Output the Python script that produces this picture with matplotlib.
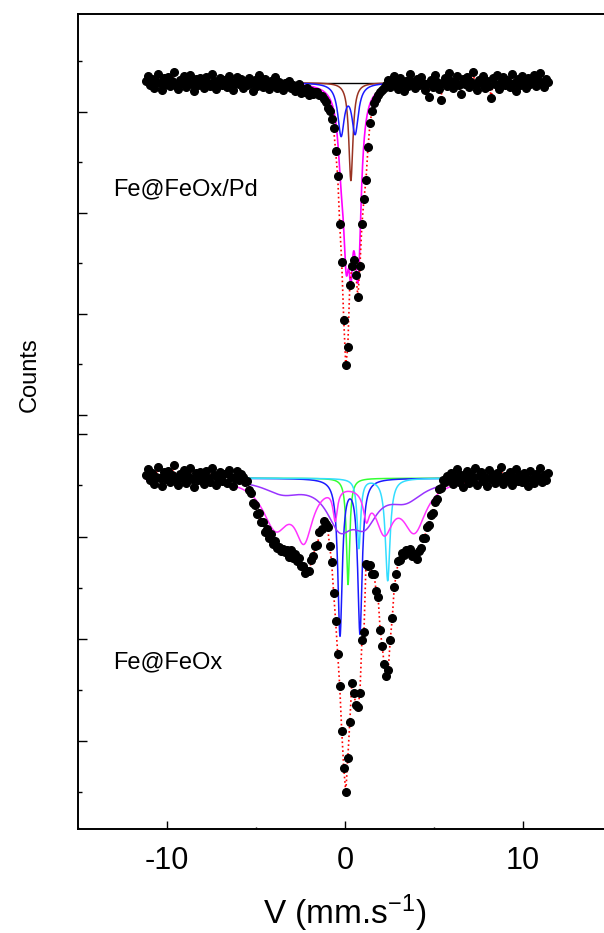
import numpy as np
import matplotlib
matplotlib.use("Agg")
import matplotlib.pyplot as plt
from matplotlib.ticker import MultipleLocator, NullLocator

plt.rcParams["font.family"] = ["Liberation Sans", "DejaVu Sans"]
plt.rcParams["mathtext.default"] = "regular"

# === Velocity channels (mm/s) ===
velocity = np.linspace(-11.2, 11.4, 200)

# === Counts: Fe@FeOx/Pd ===
counts_pd = [
    1031, 1036, 1027, 1033, 1024, 1030, 1038, 1029, 1022, 1034,
    1028, 1035, 1026, 1031, 1040, 1027, 1023, 1032, 1029, 1036,
    1025, 1030, 1037, 1028, 1021, 1033, 1027, 1034, 1030, 1024,
    1035, 1029, 1026, 1038, 1031, 1023, 1028, 1034, 1027, 1032,
    1025, 1036, 1030, 1022, 1029, 1035, 1028, 1033, 1024, 1031,
    1027, 1034, 1029, 1021, 1032, 1026, 1037, 1030, 1025, 1033,
    1028, 1023, 1031, 1027, 1035, 1024, 1030, 1026, 1022, 1029,
    1026, 1031, 1024, 1027, 1021, 1025, 1028, 1019, 1023, 1020,
    1024, 1017, 1021, 1018, 1020,
    1020, 1017, 1016, 1013, 1010, 1004, 1001, 993, 984, 961,
    937, 889, 851, 794, 749, 767, 829, 847, 853, 839,
    817, 847, 889, 914, 933, 965, 989, 1001, 1009, 1013,
    1017, 1020, 1022, 1024,
    1027, 1032, 1025, 1030, 1036, 1028, 1023, 1034, 1029, 1021,
    1031, 1026, 1038, 1030, 1024, 1033, 1027, 1035, 1029, 1022,
    1028, 1015, 1032, 1025, 1037, 1030, 1023, 1012, 1029, 1034,
    1026, 1039, 1031, 1024, 1030, 1036, 1027, 1018, 1033, 1028,
    1035, 1025, 1030, 1040, 1027, 1022, 1032, 1029, 1036, 1024,
    1031, 1026, 1014, 1034, 1028, 1037, 1023, 1030, 1035, 1027,
    1032, 1025, 1038, 1029, 1021, 1033, 1027, 1036, 1030, 1024,
    1034, 1028, 1031, 1037, 1026, 1032, 1039, 1029, 1025, 1033,
    1030,
]

# === Counts: Fe@FeOx ===
counts_ox = [
    960, 966, 955, 962, 951, 958, 968, 957, 949, 963,
    956, 964, 953, 960, 970, 955, 950, 961, 957, 965,
    952, 959, 967, 956, 948, 962, 955, 963, 958, 951,
    964, 957, 953, 967, 960, 950, 956, 963, 954, 961,
    952, 965, 958, 949, 957, 964, 955, 961,
    958, 953, 954, 945, 943, 933, 931, 922, 923, 914,
    914, 904, 907, 899, 902, 893, 896, 889, 890, 886,
    888, 885, 887, 880, 887, 879, 883, 876, 879, 871,
    871, 864, 866, 866, 877, 881, 891, 892, 904, 907,
    915, 912, 909, 891, 875, 845, 817, 785, 754, 710,
    674, 650, 683, 719, 757, 747, 735, 733, 747, 799,
    807, 873, 871, 872, 863, 863, 847, 841, 809, 793,
    775, 764, 769, 799, 820, 851, 863, 876, 877, 884,
    882, 887, 885, 888, 881, 883, 878, 886, 889, 899,
    899, 909, 911, 921, 923, 934, 937, 946, 947, 955,
    953, 959,
    955, 962, 951, 958, 966, 953, 960, 948, 957, 964,
    952, 961, 956, 967, 950, 959, 963, 954, 958, 949,
    965, 956, 960, 952, 962, 957, 968, 951, 959, 955,
    963, 950, 958, 966, 954, 960, 953, 962, 957, 949,
    964, 956, 952, 961, 958, 967, 953, 960, 955, 962,
]

# === Fit subspectra (Lorentzian lines: centre, depth, half-width) ===
base_pd = 1029
range_pd = (-3.4, 4.4)
brown_pos, brown_depth, brown_hw = [0.33], [97], [0.14]
blue_pd_pos, blue_pd_depth, blue_pd_hw = [-0.22, 0.57], [50, 48], [0.22, 0.22]
main_pd_pos, main_pd_depth, main_pd_hw = [0.07, 0.75], [131, 144], [0.2, 0.2]

base_ox = 957
range_ox = (-5.7, 5.6)
pink_pos = [-3.9, -2.3, -0.55, 1.2, 2.2, 3.9]
pink_depth = [45, 52, 30, 25, 45, 48]
pink_hw = [0.9, 0.6, 0.15, 0.2, 0.6, 0.8]
violet_pos = [-3.5, -0.3, 1.1, 3.4]
violet_depth = [12, 40, 35, 18]
violet_hw = [1.3, 0.9, 0.9, 1.2]
blue_ox_pos, blue_ox_depth, blue_ox_hw = [-0.28, 0.84], [152, 150], [0.15, 0.15]
green_pos, green_depth, green_hw = [0.17], [104], [0.11]
cyan_pos, cyan_depth, cyan_hw = [0.78, 2.4], [68, 100], [0.12, 0.16]


def lorentz(v, pos, depth, hw):
    out = np.zeros_like(v)
    for c, d, w in zip(pos, depth, hw):
        out += d / (1 + ((v - c) / w) ** 2)
    return out


fig = plt.figure(figsize=(6.04, 9.33), dpi=100)
ax_top = fig.add_axes([78 / 604, 1 - 424 / 933, 534 / 604, 410 / 933])
ax_bot = fig.add_axes([78 / 604, 1 - 829 / 933, 534 / 604, 405 / 933])

# --- Fe@FeOx/Pd ---
v = np.linspace(*range_pd, 2000)
d_brown = lorentz(v, brown_pos, brown_depth, brown_hw)
d_blue = lorentz(v, blue_pd_pos, blue_pd_depth, blue_pd_hw)
d_main = lorentz(v, main_pd_pos, main_pd_depth, main_pd_hw)
ax_top.plot(range_pd, [base_pd, base_pd], color="black", lw=1.0, zorder=2)
ax_top.plot(v, base_pd - d_brown, color="#993322", lw=1.1, zorder=3)
ax_top.plot(v, base_pd - d_blue, color="#1a1aff", lw=1.1, zorder=3)
ax_top.plot(v, base_pd - (d_brown + d_blue + d_main), color="#ff00ff", lw=1.2, zorder=4)
ax_top.plot(velocity, counts_pd, color="red", ls=":", lw=1.2, zorder=5)
ax_top.plot(velocity, counts_pd, "o", color="black", ms=5.5, zorder=6)
ax_top.text(-13.0, 923, "Fe@FeOx/Pd", fontsize=17, va="center", ha="left")

# --- Fe@FeOx ---
v = np.linspace(*range_ox, 3000)
v_full = np.linspace(velocity[0], velocity[-1], 4000)
d_pink = lorentz(v_full, pink_pos, pink_depth, pink_hw)
d_violet = lorentz(v, violet_pos, violet_depth, violet_hw)
d_blue = lorentz(v, blue_ox_pos, blue_ox_depth, blue_ox_hw)
d_green = lorentz(v, green_pos, green_depth, green_hw)
d_cyan = lorentz(v, cyan_pos, cyan_depth, cyan_hw)
ax_bot.plot(v, base_ox - d_green, color="#33ff33", lw=1.1, zorder=3)
ax_bot.plot(v, base_ox - d_blue, color="#1a1aff", lw=1.1, zorder=3)
ax_bot.plot(v, base_ox - d_cyan, color="#33ddff", lw=1.1, zorder=3)
ax_bot.plot(v, base_ox - d_violet, color="#9933ff", lw=1.1, zorder=3)
ax_bot.plot(v_full, base_ox - d_pink, color="#ff33ff", lw=1.1, zorder=4)
ax_bot.plot(velocity, counts_ox, color="red", ls=":", lw=1.2, zorder=5)
ax_bot.plot(velocity, counts_ox, "o", color="black", ms=5.5, zorder=6)
ax_bot.text(-13.0, 777, "Fe@FeOx", fontsize=17, va="center", ha="left")

# === Axes styling ===
for ax, ylim in ((ax_top, (691, 1097)), (ax_bot, (614, 1010))):
    ax.set_xlim(-15, 15)
    ax.set_ylim(*ylim)
    ax.yaxis.set_major_locator(MultipleLocator(100))
    ax.yaxis.set_minor_locator(MultipleLocator(50))
    ax.tick_params(axis="y", which="major", direction="in", length=6.5, width=1.0,
                   labelleft=False)
    ax.tick_params(axis="y", which="minor", direction="in", length=3, width=1.0)
    for s in ax.spines.values():
        s.set_linewidth(1.4)
    ax.spines["right"].set_visible(False)

ax_top.spines["bottom"].set_visible(False)
ax_top.xaxis.set_major_locator(NullLocator())
ax_top.xaxis.set_minor_locator(NullLocator())
ax_bot.spines["top"].set_visible(False)
ax_bot.xaxis.set_major_locator(MultipleLocator(10))
ax_bot.xaxis.set_minor_locator(MultipleLocator(5))
ax_bot.tick_params(axis="x", which="major", direction="in", length=6, width=1.0,
                   labelsize=22, pad=12)
ax_bot.tick_params(axis="x", which="minor", direction="in", length=1.5, width=1.0)
ax_bot.set_xticks([-10, 0, 10])
ax_bot.set_xticklabels(["-10", "0", "10"])
ax_bot.set_xlabel("V (mm.s$^{-1}$)", fontsize=24, labelpad=12)
fig.text(0.05, 1 - 375 / 933, "Counts", rotation=90, fontsize=17, ha="center", va="center")

fig.savefig("out.png", dpi=100)
